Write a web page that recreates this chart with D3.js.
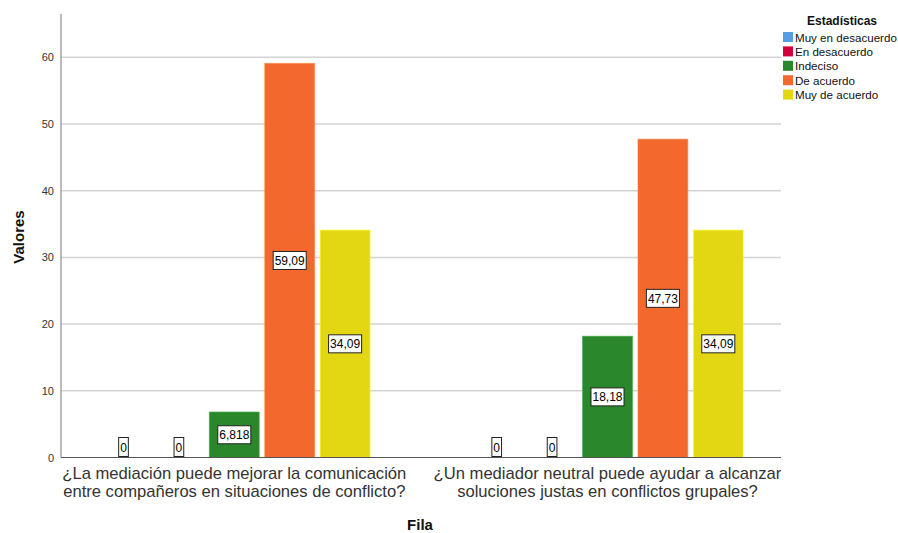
<!DOCTYPE html>
<html><head><meta charset="utf-8">
<script src="https://cdn.jsdelivr.net/npm/d3@7"></script>
<style>body{margin:0;background:#fff;} text{font-family:"Liberation Sans",Arial,sans-serif;}</style>
</head><body><svg id="c" width="898" height="533"></svg>
<script>
const categories = [
  ["¿La mediación puede mejorar la comunicación","entre compañeros en situaciones de conflicto?"],
  ["¿Un mediador neutral puede ayudar a alcanzar","soluciones justas en conflictos grupales?"]
];
const series = ["Muy en desacuerdo","En desacuerdo","Indeciso","De acuerdo","Muy de acuerdo"];
const colors = ["#569de3","#d4003a","#2a872b","#f3692d","#e2d712"];
const valuesQ1 = [0, 0, 6.818, 59.09, 34.09];
const valuesQ2 = [0, 0, 18.18, 47.73, 34.09];
const labelsQ1 = ["0","0","6,818","59,09","34,09"];
const labelsQ2 = ["0","0","18,18","47,73","34,09"];
const yTicks = [0,10,20,30,40,50,60];

const data = [valuesQ1, valuesQ2];
const labels = [labelsQ1, labelsQ2];
const svg = d3.select("#c");
const plotL = 61, plotR = 781, plotT = 14, plotB = 457.5;

const y = d3.scaleLinear().domain([0, 66.5]).range([plotB, plotT]);
const x0 = d3.scaleBand().domain([0,1]).range([47.7, 794.1]).padding(0);
const x1 = d3.scaleBand().domain(series).range([-138.5, 138.5]).paddingInner(0.1).paddingOuter(0.05);

// gridlines
svg.append("g").selectAll("line").data(yTicks.filter(d=>d>0)).join("line")
  .attr("x1", plotL).attr("x2", plotR)
  .attr("y1", d=>y(d)).attr("y2", d=>y(d))
  .attr("stroke", "#d3d3d3").attr("stroke-width", 1.5);

// y axis
const ya = svg.append("g").attr("transform", `translate(${plotL},0)`)
  .call(d3.axisLeft(y).tickValues(yTicks).tickSize(0).tickPadding(7));
ya.select(".domain").remove();
ya.selectAll("text").attr("font-size", 11).attr("fill", "#333").style("font-family","'Liberation Sans',Arial,sans-serif");

// bars
const groups = svg.append("g").selectAll("g").data(data).join("g")
  .attr("transform", (d,i)=>`translate(${x0(i)+x0.bandwidth()/2},0)`);
groups.selectAll("rect").data(d=>d.map((v,j)=>({v, s:series[j], c:colors[j]}))).join("rect")
  .attr("x", d=>x1(d.s)).attr("width", x1.bandwidth())
  .attr("y", d=>y(d.v)).attr("height", d=>y(0)-y(d.v))
  .attr("fill", d=>d.c)
  .attr("stroke", d=>d3.color(d.c).brighter(0.6)).attr("stroke-width", 1)
  .attr("stroke-opacity", 0.6);

// axis lines
svg.append("line").attr("x1", plotL).attr("x2", plotL).attr("y1", plotT).attr("y2", plotB)
  .attr("stroke", "#777").attr("stroke-width", 1);
svg.append("line").attr("x1", plotL).attr("x2", plotR).attr("y1", plotB).attr("y2", plotB)
  .attr("stroke", "#555").attr("stroke-width", 1);

// value labels
groups.each(function(d, gi){
  const g = d3.select(this);
  d.forEach((v, j)=>{
    const cx = x1(series[j]) + x1.bandwidth()/2;
    const t = labels[gi][j];
    const lg = g.append("g");
    const txt = lg.append("text").text(t).attr("font-size", 12).attr("fill", "#000")
      .attr("text-anchor", "middle").attr("dominant-baseline", "central");
    const w = txt.node().getComputedTextLength() + 3;
    let cy, h;
    if (v === 0) { h = 19; cy = y(0) - 1 - h/2; }
    else { h = 18; cy = (y(v) + y(0)) / 2; }
    lg.insert("rect", "text").attr("x", cx - w/2).attr("y", cy - h/2).attr("width", w).attr("height", h)
      .attr("fill", "#fff").attr("stroke", "#222").attr("stroke-width", 1);
    txt.attr("x", cx).attr("y", cy + 0.5);
  });
});

// category labels
categories.forEach((lines, i)=>{
  const cx = x0(i) + x0.bandwidth()/2;
  lines.forEach((ln, k)=>{
    svg.append("text").text(ln).attr("x", cx).attr("y", 479 + k*17.5)
      .attr("text-anchor", "middle").attr("font-size", 16.6).attr("fill", "#333");
  });
});

// axis titles
svg.append("text").text("Valores").attr("transform", "translate(24,237) rotate(-90)")
  .attr("text-anchor", "middle").attr("font-size", 15).attr("font-weight", "bold").attr("fill", "#111");
svg.append("text").text("Fila").attr("x", 420).attr("y", 530)
  .attr("text-anchor", "middle").attr("font-size", 15).attr("font-weight", "bold").attr("fill", "#111");

// legend
svg.append("text").text("Estadísticas").attr("x", 842).attr("y", 25)
  .attr("text-anchor", "middle").attr("font-size", 12).attr("font-weight", "bold").attr("fill", "#111");
const lg = svg.append("g").selectAll("g").data(series).join("g")
  .attr("transform", (d,i)=>`translate(783,${32 + i*14.4})`);
lg.append("rect").attr("width", 10).attr("height", 10).attr("fill", (d,i)=>colors[i]);
lg.append("text").text(d=>d).attr("x", 12).attr("y", 9.5).attr("font-size", 11.6).attr("fill", "#111");
</script></body></html>
